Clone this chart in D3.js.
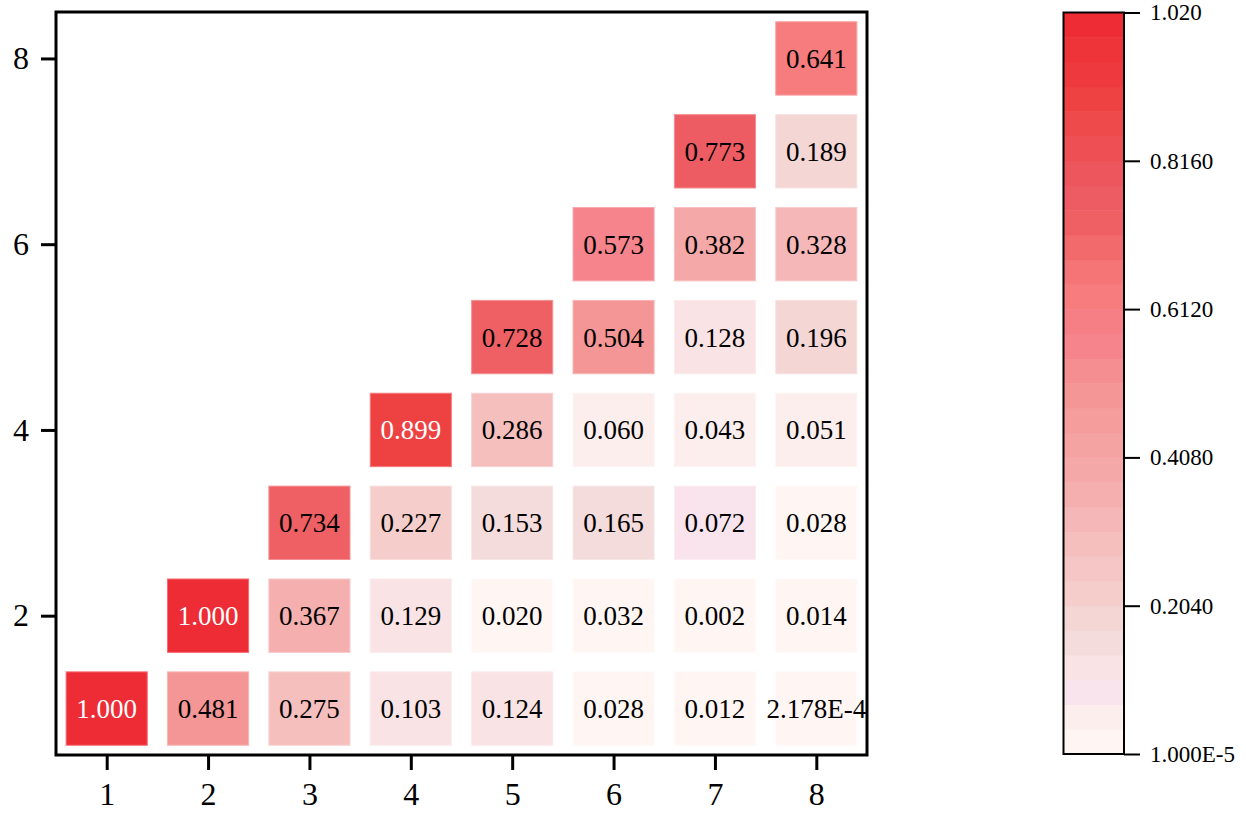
<!DOCTYPE html>
<html><head><meta charset="utf-8">
<script src="https://cdn.jsdelivr.net/npm/d3@7"></script>
<style>body{margin:0;background:#fff;} text{font-family:"Liberation Serif","Times New Roman",serif;}</style>
</head><body><svg id="c" width="1246" height="816"></svg>
<script>
// Data
const cellX = [1,2,3,4,5,6,7,8, 2,3,4,5,6,7,8, 3,4,5,6,7,8, 4,5,6,7,8, 5,6,7,8, 6,7,8, 7,8, 8];
const cellY = [1,1,1,1,1,1,1,1, 2,2,2,2,2,2,2, 3,3,3,3,3,3, 4,4,4,4,4, 5,5,5,5, 6,6,6, 7,7, 8];
const cellValues = [1.000,0.481,0.275,0.103,0.124,0.028,0.012,2.178e-4,
  1.000,0.367,0.129,0.020,0.032,0.002,0.014,
  0.734,0.227,0.153,0.165,0.072,0.028,
  0.899,0.286,0.060,0.043,0.051,
  0.728,0.504,0.128,0.196,
  0.573,0.382,0.328,
  0.773,0.189,
  0.641];
const cellLabels = ["1.000","0.481","0.275","0.103","0.124","0.028","0.012","2.178E-4",
  "1.000","0.367","0.129","0.020","0.032","0.002","0.014",
  "0.734","0.227","0.153","0.165","0.072","0.028",
  "0.899","0.286","0.060","0.043","0.051",
  "0.728","0.504","0.128","0.196",
  "0.573","0.382","0.328",
  "0.773","0.189",
  "0.641"];
const xTicks = [1,2,3,4,5,6,7,8];
const yTicks = [2,4,6,8];
const cbMin = 1e-5, cbMax = 1.02, cbLevels = 30;
const cbTicks = [1e-5, 0.204, 0.408, 0.612, 0.816, 1.02];
const cbTickLabels = ["1.000E-5","0.2040","0.4080","0.6120","0.8160","1.020"];
// colormap stops (style)
const stopVals = [0.017, 0.051, 0.085, 0.119, 0.153, 0.187, 0.221, 0.3, 0.38, 0.5, 0.57, 0.64, 0.73, 0.78, 0.9, 1.02];
const stopCols = ["#fff6f4","#fdeeee","#f9e4ee","#f9e3e4","#f5dcdc","#f4d6d5","#f5cecc","#f5bcbc","#f5aaaa","#f59595","#f5828b","#f77b7b","#ef6064","#ee5a62","#ee4242","#ee2833"];

const svg = d3.select("#c");
const L=56, R=867, T=12, B=755;
const x = d3.scaleLinear().domain([0.5,8.5]).range([L,R]);
const y = d3.scaleLinear().domain([0.5,8.5]).range([B,T]);
const cont = d3.scaleLinear().domain(stopVals).range(stopCols).interpolate(d3.interpolateRgb).clamp(true);
const step = (cbMax-cbMin)/cbLevels;
function colorOf(v){
  let k = Math.floor((v-cbMin)/step); k=Math.max(0,Math.min(cbLevels-1,k));
  return cont(cbMin+(k+0.5)*step);
}

const cw = (x(2)-x(1))*0.8, ch = (y(1)-y(2))*0.79;
const cells = cellValues.map((v,i)=>({x:cellX[i],y:cellY[i],v,l:cellLabels[i]}));
const g = svg.append("g");
g.selectAll("rect.cell").data(cells).enter().append("rect")
  .attr("x",d=>x(d.x)-cw/2).attr("y",d=>y(d.y)-ch/2).attr("width",cw).attr("height",ch)
  .attr("fill",d=>colorOf(d.v)).attr("stroke",d=>d3.interpolateRgb(colorOf(d.v),"#fff")(0.3)).attr("stroke-width",1);
g.selectAll("text.cell").data(cells).enter().append("text")
  .attr("x",d=>x(d.x)).attr("y",d=>y(d.y)).attr("dy","0.35em").attr("text-anchor","middle")
  .attr("font-size",27).attr("fill",d=>d.v>0.85?"#fff":"#000").text(d=>d.l);

// axes
const xa = svg.append("g").attr("transform",`translate(0,${B})`)
  .call(d3.axisBottom(x).tickValues(xTicks).tickSize(15).tickPadding(12).tickFormat(d3.format("d")));
const ya = svg.append("g").attr("transform",`translate(${L},0)`)
  .call(d3.axisLeft(y).tickValues(yTicks).tickSize(15).tickPadding(12).tickFormat(d3.format("d")));
[xa,ya].forEach(a=>{a.select(".domain").remove();a.selectAll("line").attr("stroke","#000").attr("stroke-width",3);
  a.selectAll("text").attr("font-size",32).attr("fill","#000").attr("font-family","Liberation Serif");});
svg.append("rect").attr("x",L).attr("y",T).attr("width",R-L).attr("height",B-T)
  .attr("fill","none").attr("stroke","#000").attr("stroke-width",3);

// colorbar
const cbL=1063.5, cbR=1124, cbT=12.5, cbB=754;
const cy = d3.scaleLinear().domain([cbMin,cbMax]).range([cbB,cbT]);
const bands = d3.range(cbLevels).map(k=>cbMin+k*step);
svg.append("g").selectAll("rect").data(bands).enter().append("rect")
  .attr("x",cbL).attr("width",cbR-cbL).attr("y",d=>cy(d+step)).attr("height",d=>cy(d)-cy(d+step)+0.5)
  .attr("fill",d=>colorOf(d+step/2));
svg.append("rect").attr("x",cbL).attr("y",cbT).attr("width",cbR-cbL).attr("height",cbB-cbT)
  .attr("fill","none").attr("stroke","#000").attr("stroke-width",2);
const ca = svg.append("g").attr("transform",`translate(${cbR},0)`)
  .call(d3.axisRight(cy).tickValues(cbTicks).tickSize(16).tickPadding(10).tickFormat((d,i)=>cbTickLabels[i]));
ca.select(".domain").remove();
ca.selectAll("line").attr("stroke","#000").attr("stroke-width",2);
ca.selectAll("text").attr("font-size",23).attr("fill","#000").attr("font-family","Liberation Serif");
</script></body></html>
